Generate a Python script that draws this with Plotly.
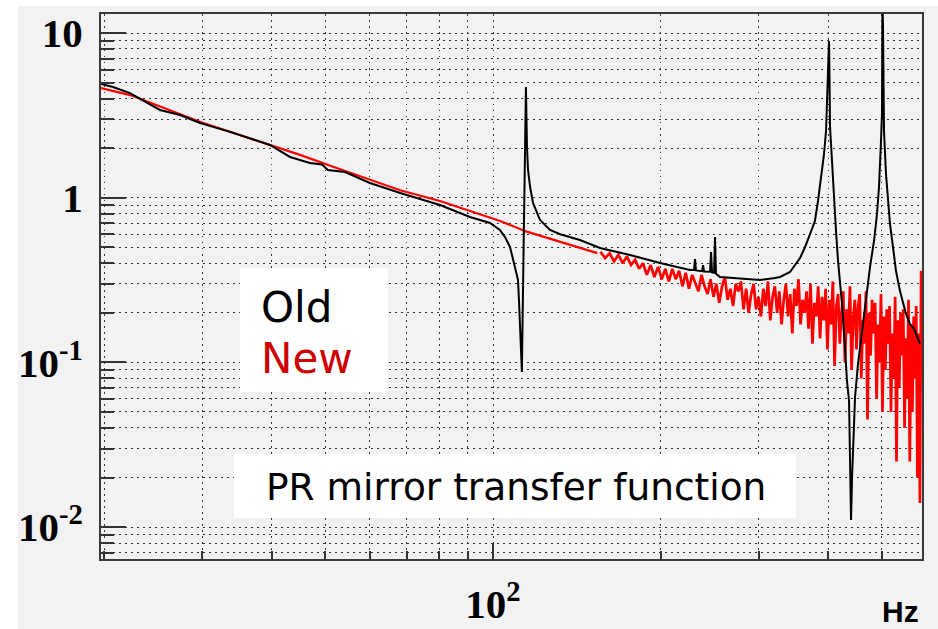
import numpy as np
import plotly.graph_objects as go

# ---------------------------------------------------------------
# Old measurement (black): frequency [Hz] and transfer magnitude
# ---------------------------------------------------------------
OLD_FREQ = [19.75, 20.76, 22.27, 25.21, 27.39, 29.76, 33.69, 39.74, 43.18, 46.9,
            49.29, 50.5, 54.2, 60.1, 68.1, 80.3, 90.9, 98.8, 102.9, 105.1,
            107.3, 109.5, 110.9, 111.4, 112.3, 112.7, 113.2, 113.7, 114.1, 114.6,
            115.1, 115.6, 116.6, 118.0, 121.5, 126.6, 132.0, 143.3, 155.7, 176.3,
            199.6, 225.9, 229.7, 230.7, 231.6, 237.5, 238.5, 239.5, 245.5, 246.5,
            247.5, 249.6, 250.6, 251.6, 255.9, 277.8, 301.8, 321.1, 327.9, 341.8,
            356.2, 363.6, 371.2, 378.9, 383.7, 386.9, 390.1, 393.4, 396.7, 398.3,
            399.9, 401.6, 402.4, 403.3, 406.6, 410.0, 413.4, 416.9, 420.3, 423.8,
            429.1, 432.6, 436.3, 438.1, 439.9, 441.8, 443.6, 447.3, 452.8, 460.4,
            468.1, 475.9, 483.8, 489.8, 493.9, 496.0, 498.0, 500.0, 501.0, 502.1,
            503.1, 504.2, 508.4, 512.6, 516.9, 523.3, 529.9, 538.7, 545.5, 552.3,
            561.5, 570.9, 585.3]
OLD_MAG = [4.90, 4.70, 4.32, 3.41, 3.18, 2.84, 2.51, 2.09, 1.767, 1.625,
           1.59, 1.473, 1.432, 1.228, 1.068, 0.903, 0.764, 0.702, 0.637, 0.577,
           0.502, 0.380, 0.317, 0.2295, 0.119, 0.0874, 0.264, 0.807, 1.948, 4.70,
           2.03, 1.473, 1.161, 0.929, 0.732, 0.637, 0.60, 0.554, 0.495, 0.449,
           0.401, 0.364, 0.364, 0.424, 0.362, 0.358, 0.39, 0.356, 0.355, 0.468,
           0.352, 0.35, 0.577, 0.345, 0.330, 0.325, 0.317, 0.325, 0.330, 0.354,
           0.43, 0.50, 0.60, 0.722, 0.955, 1.161, 1.453, 1.842, 2.54, 4.09,
           5.88, 8.94, 5.5, 2.69, 1.671, 0.955, 0.628, 0.413, 0.312, 0.226,
           0.124, 0.0771, 0.0583, 0.0252, 0.01104, 0.02, 0.0306, 0.0617, 0.0978, 0.155,
           0.249, 0.380, 0.546, 0.796, 1.161, 1.536, 2.21, 3.22, 15.0, 11.34,
           6.0, 2.54, 1.393, 0.955, 0.692, 0.502, 0.359, 0.271, 0.226, 0.197,
           0.171, 0.160, 0.13]

# ---------------------------------------------------------------
# New measurement (red): smooth low-frequency part
# ---------------------------------------------------------------
NEW_FREQ = [19.75, 22.3, 29.8, 39.7, 45.0, 51.6, 60.1, 68.1, 80.3, 90.9,
            103.0, 115.0, 129.0, 144.0, 154.0]
NEW_MAG = [4.63, 4.20, 2.88, 2.09, 1.82, 1.54, 1.28, 1.11, 0.955, 0.83,
           0.722, 0.622, 0.554, 0.492, 0.461]

# New measurement (red): noisy high-frequency bins
NEW_BIN_START = 156.0   # Hz, first bin centre
NEW_BIN_WIDTH = 3.0     # Hz
NEW_BIN_MAG = [
    0.47, 0.43, 0.46, 0.41, 0.45, 0.40, 0.44, 0.39, 0.42, 0.37,
    0.40, 0.34, 0.39, 0.33, 0.38, 0.32, 0.37, 0.31, 0.37, 0.32,
    0.36, 0.29, 0.35, 0.28, 0.34, 0.30, 0.27, 0.34, 0.29, 0.26,
    0.32, 0.25, 0.30, 0.23, 0.29, 0.33, 0.24, 0.28, 0.22, 0.30,
    0.27, 0.31, 0.21, 0.28, 0.20, 0.26, 0.30, 0.21, 0.25, 0.19,
    0.28, 0.22, 0.31, 0.18, 0.25, 0.29, 0.20, 0.27, 0.17, 0.24,
    0.30, 0.19, 0.26, 0.15, 0.28, 0.22, 0.32, 0.17, 0.24, 0.20,
    0.27, 0.16, 0.30, 0.13, 0.23, 0.19, 0.29, 0.14, 0.25, 0.18,
    0.28, 0.12, 0.24, 0.17, 0.31, 0.095, 0.22, 0.26, 0.13, 0.20,
    0.27, 0.10, 0.21, 0.15, 0.29, 0.09, 0.19, 0.24, 0.12, 0.22,
    0.26, 0.08, 0.18, 0.13, 0.27, 0.045, 0.20, 0.11, 0.24, 0.15,
    0.23, 0.06, 0.17, 0.10, 0.26, 0.05, 0.19, 0.09, 0.21, 0.13,
    0.22, 0.05, 0.15, 0.08, 0.25, 0.025, 0.18, 0.07, 0.20, 0.11,
    0.21, 0.04, 0.14, 0.06, 0.24, 0.025, 0.17, 0.05, 0.19, 0.08,
    0.22, 0.02, 0.15, 0.014, 0.36,
]
NEW_BIN_FREQ = NEW_BIN_START + NEW_BIN_WIDTH * np.arange(len(NEW_BIN_MAG))

# Axis ticks
X_TICKS = [100]
X_TICK_TEXT = ["10<sup>2</sup>"]
X_MINOR = [20, 30, 40, 50, 60, 70, 80, 90, 200, 300, 400, 500]
Y_TICKS = [0.01, 0.1, 1, 10]
Y_TICK_TEXT = ["10<sup>-2</sup>", "10<sup>-1</sup>", "1", "10"]
Y_MINOR = [k * 10.0 ** e for e in (-3, -2, -1, 0) for k in range(2, 10)]
Y_MINOR = [v for v in Y_MINOR if v > 0.0065]

X_RANGE = [1.2956, 2.7709]
Y_RANGE = [-2.1937, 1.1154]

W, H = 938, 629
ML, MR, MT, MB = 101, 16, 14, 70
PW, PH = W - ML - MR, H - MT - MB


def px_x(x):
    return (x - ML) / PW


def px_y(y):
    return (H - MB - y) / PH


fig = go.Figure()

fig.add_trace(go.Scatter(x=NEW_FREQ, y=NEW_MAG, mode="lines",
                         line=dict(color="#ff0000", width=2.2), showlegend=False))
fig.add_trace(go.Scatter(x=NEW_BIN_FREQ, y=NEW_BIN_MAG, mode="lines",
                         line=dict(color="#ff0000", width=2.7),
                         showlegend=False))
fig.add_trace(go.Scatter(x=OLD_FREQ, y=OLD_MAG, mode="lines",
                         line=dict(color="#000000", width=2.0), showlegend=False))

tick_font = dict(family="Liberation Serif", size=41, color="#000000", weight="bold")
grid_dash = "1.5px,4.5px"
grid_col = "#333333"

fig.update_xaxes(
    type="log", range=X_RANGE, automargin=False,
    tickmode="array", tickvals=X_TICKS, ticktext=X_TICK_TEXT,
    ticks="inside", ticklen=15, tickwidth=2, tickcolor="#333333",
    tickfont=tick_font, ticklabelstandoff=8,
    showgrid=True, griddash=grid_dash, gridcolor=grid_col, gridwidth=1.2,
    minor=dict(tickmode="array", tickvals=X_MINOR, ticks="inside", ticklen=8,
               tickwidth=1.5, tickcolor="#333333", showgrid=True,
               griddash=grid_dash, gridcolor=grid_col, gridwidth=1.2),
    showline=True, linecolor="#3a3a3a", linewidth=2, mirror=True,
    zeroline=False,
)
fig.update_yaxes(
    type="log", range=Y_RANGE, automargin=False,
    tickmode="array", tickvals=Y_TICKS, ticktext=Y_TICK_TEXT,
    ticks="inside", ticklen=25, tickwidth=2, tickcolor="#333333",
    tickfont=tick_font, ticklabelstandoff=8,
    showgrid=True, griddash=grid_dash, gridcolor=grid_col, gridwidth=1.2,
    minor=dict(tickmode="array", tickvals=Y_MINOR, ticks="inside", ticklen=13,
               tickwidth=1.5, tickcolor="#333333", showgrid=True,
               griddash=grid_dash, gridcolor=grid_col, gridwidth=1.2),
    showline=True, linecolor="#3a3a3a", linewidth=2, mirror=True,
    zeroline=False,
)

shapes = [
    # light grey canvas behind the frame
    dict(type="rect", xref="paper", yref="paper", layer="below",
         x0=px_x(18), x1=px_x(940), y0=px_y(631), y1=px_y(6),
         fillcolor="#f2f2f2", line=dict(width=0)),
    # legend box
    dict(type="rect", xref="paper", yref="paper", layer="above",
         x0=px_x(240), x1=px_x(388), y0=px_y(392), y1=px_y(268),
         fillcolor="#ffffff", line=dict(width=0)),
    # caption box
    dict(type="rect", xref="paper", yref="paper", layer="above",
         x0=px_x(234), x1=px_x(796), y0=px_y(518), y1=px_y(454),
         fillcolor="#ffffff", line=dict(width=0)),
]

label_font = "DejaVu Sans"
annotations = [
    dict(text="Old", xref="paper", yref="paper", x=px_x(259), y=px_y(308),
         xanchor="left", yanchor="middle", showarrow=False,
         font=dict(family=label_font, size=42, color="#000000")),
    dict(text="New", xref="paper", yref="paper", x=px_x(259), y=px_y(358),
         xanchor="left", yanchor="middle", showarrow=False,
         font=dict(family=label_font, size=42, color="#cc0000")),
    dict(text="PR mirror transfer function", xref="paper", yref="paper",
         x=px_x(516), y=px_y(487), xanchor="center", yanchor="middle",
         showarrow=False, font=dict(family=label_font, size=37.5, color="#000000")),
    dict(text="<b>Hz</b>", xref="paper", yref="paper", x=px_x(921), y=px_y(611),
         xanchor="right", yanchor="middle", showarrow=False,
         font=dict(family="Liberation Sans", size=30, color="#000000")),
]

fig.update_layout(
    width=W, height=H,
    margin=dict(l=ML, r=MR, t=MT, b=MB, pad=0),
    paper_bgcolor="#ffffff", plot_bgcolor="#f2f2f2",
    shapes=shapes, annotations=annotations,
    showlegend=False,
)

fig.write_html("out.html")
